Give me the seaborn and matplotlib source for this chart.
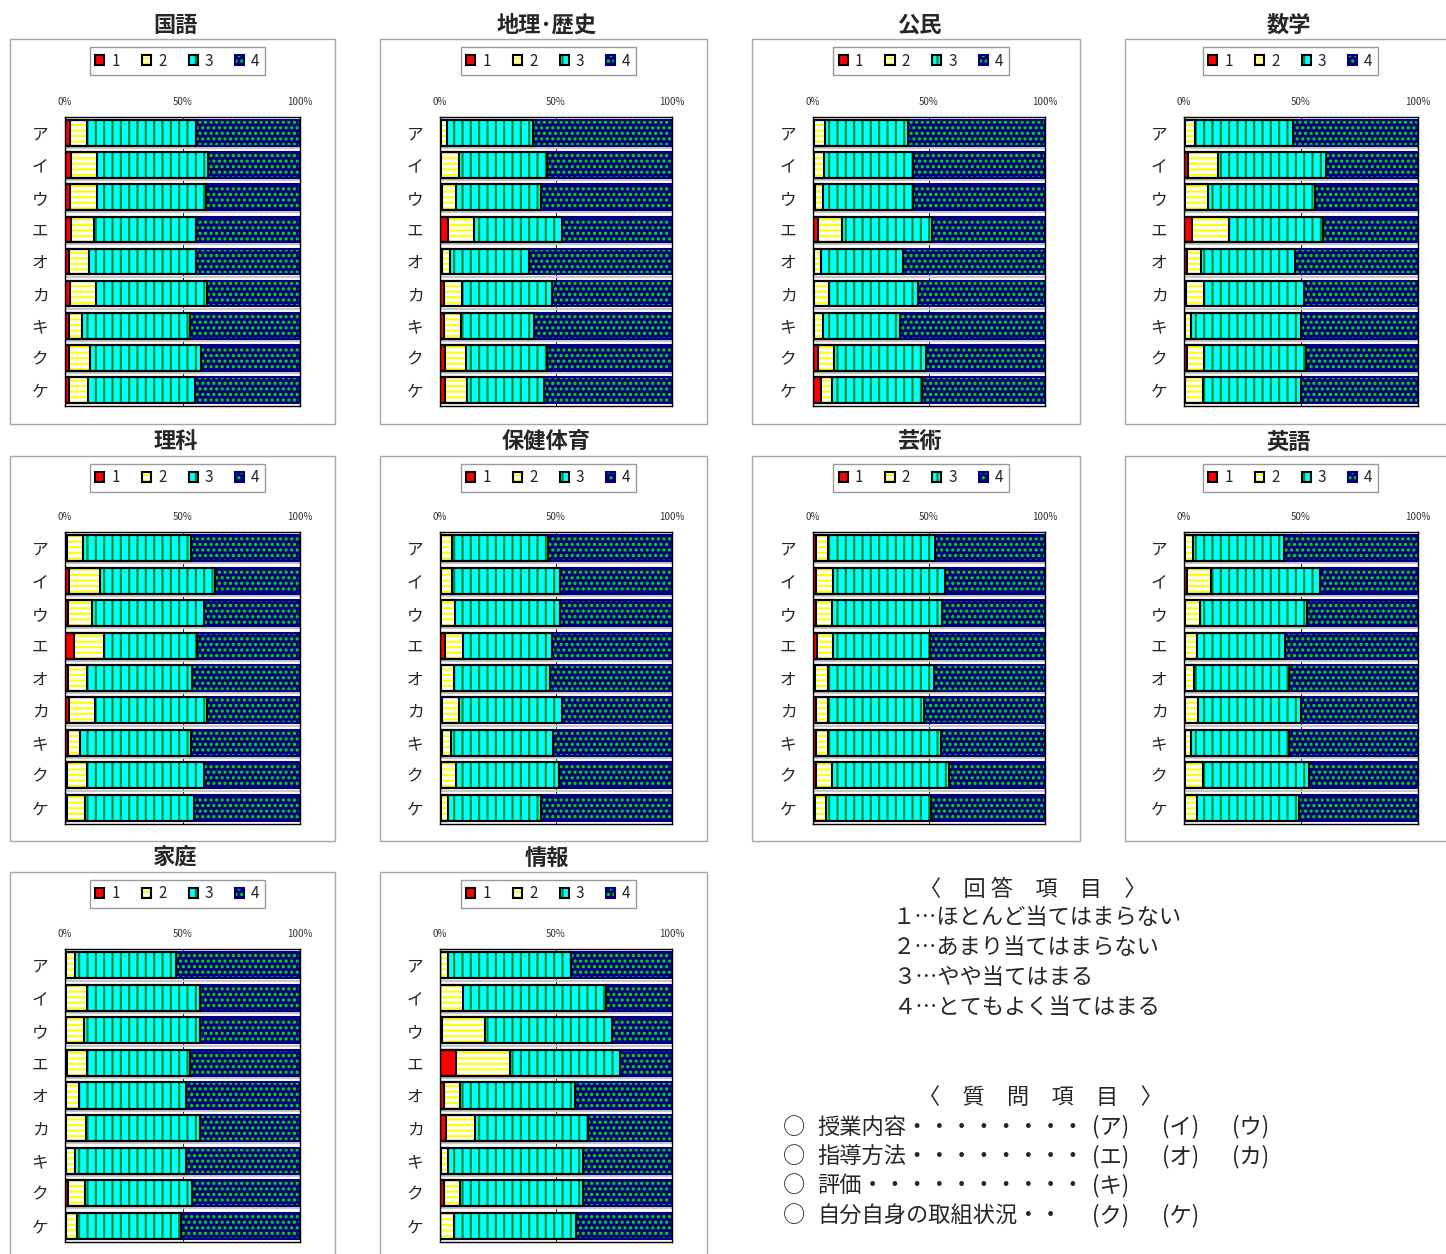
import pandas as pd
import seaborn as sns
import matplotlib.pyplot as plt
from matplotlib.patches import Patch, Rectangle

W, H = 1446, 1254

items = ["ア", "イ", "ウ", "エ", "オ", "カ", "キ", "ク", "ケ"]
answers = ["1", "2", "3", "4"]

# 回答1〜4の割合(%)  行 = ア〜ケ
kokugo = [[2.0, 7.5, 46.1, 44.4], [2.6, 11.2, 47.0, 39.2], [2.3, 11.4, 46.4, 39.9],
          [2.7, 9.8, 43.3, 44.2], [1.9, 8.1, 45.8, 44.2], [2.0, 11.2, 47.1, 39.7],
          [1.6, 5.8, 45.7, 46.9], [1.7, 9.0, 47.3, 42.0], [1.6, 8.2, 45.6, 44.6]]
chireki = [[0.3, 2.9, 36.9, 59.9], [0.6, 7.7, 37.7, 54.0], [1.0, 6.1, 36.4, 56.5],
           [3.6, 10.9, 38.0, 47.5], [0.7, 3.8, 34.0, 61.5], [1.7, 7.7, 38.8, 51.8],
           [1.7, 7.4, 31.4, 59.5], [2.3, 8.9, 34.8, 54.0], [2.3, 9.3, 33.4, 55.0]]
koumin = [[0.3, 4.9, 35.7, 59.1], [0.3, 4.6, 38.0, 57.1], [1.0, 3.5, 38.4, 57.1],
          [2.3, 10.0, 38.9, 48.8], [0.4, 2.9, 35.5, 61.2], [0.4, 6.7, 38.3, 54.6],
          [0.4, 3.7, 33.6, 62.3], [2.0, 7.1, 39.6, 51.3], [3.3, 5.1, 38.4, 53.2]]
suugaku = [[0.3, 4.4, 41.8, 53.5], [1.9, 12.7, 45.9, 39.5], [0.4, 9.9, 45.5, 44.2],
           [3.6, 15.7, 40.0, 40.7], [1.1, 6.2, 40.1, 52.6], [0.9, 7.7, 42.8, 48.6],
           [0.3, 2.8, 46.7, 50.2], [1.1, 7.6, 43.5, 47.8], [0.3, 7.7, 41.8, 50.2]]
rika = [[0.7, 7.1, 45.7, 46.5], [1.8, 13.3, 48.6, 36.3], [1.4, 10.0, 47.9, 40.7],
        [4.0, 12.4, 39.8, 43.8], [1.3, 7.9, 44.8, 46.0], [1.8, 11.1, 47.4, 39.7],
        [1.1, 5.4, 47.0, 46.5], [1.0, 8.2, 49.8, 41.0], [1.0, 7.3, 46.5, 45.2]]
hoken = [[0.5, 4.8, 41.1, 53.6], [0.5, 4.7, 46.5, 48.3], [0.5, 6.0, 45.4, 48.1],
         [2.2, 7.9, 38.2, 51.7], [0.5, 5.7, 41.4, 52.4], [0.7, 7.5, 44.2, 47.6],
         [0.7, 4.2, 43.8, 51.3], [0.4, 6.7, 44.3, 48.6], [0.3, 3.3, 40.1, 56.3]]
geijutsu = [[1.4, 4.9, 46.4, 47.3], [1.4, 7.1, 48.3, 43.2], [1.4, 7.0, 47.0, 44.6],
            [1.7, 6.8, 41.8, 49.7], [1.0, 5.4, 45.9, 47.7], [1.4, 5.2, 41.1, 52.3],
            [1.1, 5.3, 48.9, 44.7], [1.1, 7.3, 50.3, 41.3], [0.9, 4.8, 45.3, 49.0]]
eigo = [[0.4, 3.5, 39.0, 57.1], [1.4, 10.0, 46.9, 41.7], [0.6, 6.1, 45.7, 47.6],
        [0.6, 5.0, 37.6, 56.8], [0.6, 3.5, 40.7, 55.2], [0.4, 5.7, 43.7, 50.2],
        [0.3, 2.8, 41.8, 55.1], [0.4, 7.9, 45.3, 46.4], [0.4, 5.3, 43.5, 50.8]]
katei = [[0.4, 3.8, 43.0, 52.8], [0.4, 8.8, 48.3, 42.5], [0.4, 7.5, 49.7, 42.4],
         [0.8, 8.4, 43.9, 46.9], [0.4, 5.7, 45.3, 48.6], [0.4, 8.5, 48.6, 42.5],
         [0.4, 3.8, 47.2, 48.6], [1.1, 7.4, 45.7, 45.8], [0.4, 4.5, 44.3, 50.8]]
jouhou = [[0.2, 3.3, 52.9, 43.6], [0.2, 9.5, 61.9, 28.4], [1.0, 18.2, 55.0, 25.8],
          [7.1, 23.0, 47.4, 22.5], [1.6, 7.0, 49.6, 41.8], [2.5, 12.5, 48.7, 36.3],
          [0.3, 3.2, 58.2, 38.3], [1.7, 7.1, 52.9, 38.3], [0.2, 5.9, 52.5, 41.4]]

subjects = [("国語", kokugo), ("地理･歴史", chireki), ("公民", koumin), ("数学", suugaku),
            ("理科", rika), ("保健体育", hoken), ("芸術", geijutsu), ("英語", eigo),
            ("家庭", katei), ("情報", jouhou)]

answer_text = ["１…ほとんど当てはまらない", "２…あまり当てはまらない",
               "３…やや当てはまる", "４…とてもよく当てはまる"]
question_text = ["授業内容・・・・・・・・", "指導方法・・・・・・・・",
                 "評価・・・・・・・・・・", "自分自身の取組状況・・"]
question_items = [["(ア)", "(イ)", "(ウ)"], ["(エ)", "(オ)", "(カ)"], ["(キ)"], ["(ク)", "(ケ)"]]

fills = ["#ff0000", "#ffffff", "#00ffff", "#000080"]
hatch_cols = ["#ff0000", "#ffff00", "#008a20", "#00e600"]
hatches = ["", "---", "||", "..."]
outlines = ["black", "black", "black", "#000080"]

sns.set_style("white")
plt.rcParams["font.family"] = ["Noto Sans CJK JP", "DejaVu Sans"]
plt.rcParams["hatch.linewidth"] = 1.5

fig = plt.figure(figsize=(W / 100, H / 100), dpi=100)


def fx(px):
    return px / W


def fy(py):
    return 1 - py / H


box_l = [10, 380, 752, 1125]
box_r = [335, 707, 1080, 1450]
box_t = [39, 456, 872]
box_b = [424, 841, 1258]
ax_l = [65, 440, 813, 1184]
ax_r = [300, 672, 1045, 1418]
ax_tb = [(117, 406), (532, 824), (949, 1242)]


def draw_panel(ax, vals):
    df = pd.DataFrame(vals, columns=answers)
    df["項目"] = items
    cum = df[answers].cumsum(axis=1)
    # 積み上げ: 全体の棒から順に上書き
    for i in [3, 2, 1, 0]:
        n0 = len(ax.patches)
        sns.barplot(x=cum[answers[i]], y=df["項目"], orient="y", color=fills[i],
                    errorbar=None, width=0.8, ax=ax)
        for p in ax.patches[n0:]:
            p.set_facecolor(fills[i])
            p.set_hatch(hatches[i])
            p.set_edgecolor(hatch_cols[i])
            p.set_linewidth(0)
    # 枠線
    for i in [3, 2, 1, 0]:
        n0 = len(ax.patches)
        sns.barplot(x=cum[answers[i]], y=df["項目"], orient="y", color=fills[i],
                    errorbar=None, width=0.8, ax=ax)
        for p in ax.patches[n0:]:
            p.set_facecolor("none")
            p.set_edgecolor(outlines[i])
            p.set_linewidth(1.5)
    # 棒の下の薄い影
    ax.hlines([j + 0.47 for j in range(len(items) - 1)], 0, 100,
              color="#c8c8c8", lw=1.5, zorder=0.6)
    ax.axvline(50, color="black", lw=0.6, zorder=0.5)
    ax.set_xlim(0, 100)
    ax.set_ylim(len(items) - 0.5, -0.5)
    ax.xaxis.tick_top()
    ax.set_xticks([0, 50, 100])
    ax.set_xticklabels(["0%", "50%", "100%"], fontsize=7, color="#333333")
    ax.tick_params(axis="x", length=0, pad=7)
    ax.tick_params(axis="y", length=0, pad=12, labelsize=12)
    ax.set_xlabel("")
    ax.set_ylabel("")
    for s in ax.spines.values():
        s.set_visible(True)
        s.set_color("black")
        s.set_linewidth(1.0)


for k, (name, vals) in enumerate(subjects):
    r, c = divmod(k, 4)
    bl, br, bt, bb = box_l[c], box_r[c], box_t[r], box_b[r]
    fig.patches.append(Rectangle((fx(bl), fy(bb)), (br - bl) / W, (bb - bt) / H,
                                 transform=fig.transFigure, fill=False,
                                 edgecolor="#a6a6a6", lw=1.0))
    cx = (bl + min(br, 1446)) / 2 + 3
    fig.text(fx(cx), fy(bt - 14), name, ha="center", va="center",
             fontsize=16, fontweight="bold")
    t, b = ax_tb[r]
    ax = fig.add_axes([fx(ax_l[c]), fy(b), (ax_r[c] - ax_l[c]) / W, (b - t) / H])
    draw_panel(ax, vals)
    handles = [(Patch(facecolor=fills[i], edgecolor=hatch_cols[i], hatch=hatches[i], lw=0),
                Patch(facecolor="none", edgecolor=outlines[i], lw=1.5)) for i in range(4)]
    leg = ax.legend(handles, answers, ncol=4, loc="center",
                    bbox_to_anchor=(fx(cx + 2), fy(bt + 22)), bbox_transform=fig.transFigure,
                    frameon=True, fancybox=False, edgecolor="#808080", fontsize=11,
                    handlelength=0.6, handleheight=0.6, handletextpad=0.45,
                    columnspacing=1.45, borderpad=0.35, borderaxespad=0)
    leg.get_frame().set_linewidth(1.0)

# 回答項目
fig.text(fx(1033), fy(889), "〈　回 答　項　目　〉", ha="center", va="center", fontsize=16)
for j, s in enumerate(answer_text):
    fig.text(fx(893), fy(918 + 30 * j), s, ha="left", va="center", fontsize=16)

# 質問項目
fig.text(fx(1040), fy(1097), "〈　質　問　項　目　〉", ha="center", va="center", fontsize=16)
for j, s in enumerate(question_text):
    y = 1127 + 29.5 * j
    fig.text(fx(783), fy(y), "○", ha="left", va="center", fontsize=16)
    fig.text(fx(817), fy(y), s, ha="left", va="center", fontsize=16)
    for m, q in enumerate(question_items[j]):
        fig.text(fx(1092 + 70 * m), fy(y), q, ha="left", va="center", fontsize=16)

fig.savefig("out.png", dpi=100)
